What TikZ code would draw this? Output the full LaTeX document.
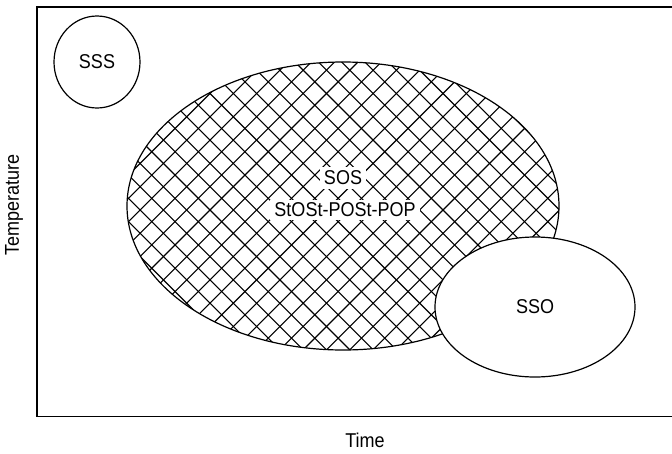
\documentclass[tikz,border=0pt]{standalone}
\usepackage{fontspec}
\setmainfont{Liberation Sans}[FakeStretch=0.9]
\usetikzlibrary{shapes.geometric}
\begin{document}
\begin{tikzpicture}[x=1pt,y=-1pt,
  outline/.style={line width=1.2pt,black},
  hatch/.style={line width=1.1pt,black},
  lbl/.style={font=\fontsize{20}{22}\selectfont},
  halo/.style={lbl,fill=white,inner xsep=4pt,inner ysep=4pt},
  region/.style={ellipse,outline,draw,fill=white,inner sep=0pt,lbl}]
\useasboundingbox (0,0) rectangle (672,453);
% frame (right side lies outside the picture)
\draw[outline] (675,7) -- (37,7) -- (37,416.5) -- (675,416.5);
% big hatched region
\begin{scope}
  \clip (343,206) ellipse [x radius=216, y radius=144];
  \foreach \k in {-20,...,42}{
    \draw[hatch] (\k*23.3,0) -- ++(500,500);
    \draw[hatch] (0.6+\k*23.3,0) -- ++(-500,500);
  }
\end{scope}
\node[draw,outline,ellipse,minimum width=432pt,minimum height=288pt] (big) at (343,206) {};
\node[halo] (sos) at (343,178) {SOS};
\node[halo,inner ysep=3pt] (st) at (345,210) {StOSt-POSt-POP};
% SSO and SSS
\node[region,minimum width=200pt,minimum height=140pt] (sso) at (535,307) {SSO};
\node[region,minimum width=86pt,minimum height=92pt] (sss) at (97,62) {SSS};
% axis labels
\node[lbl] (time) at (365,440) {Time};
\node[lbl,rotate=90] (temp) at (14,205) {Temperature};
\end{tikzpicture}
\end{document}
